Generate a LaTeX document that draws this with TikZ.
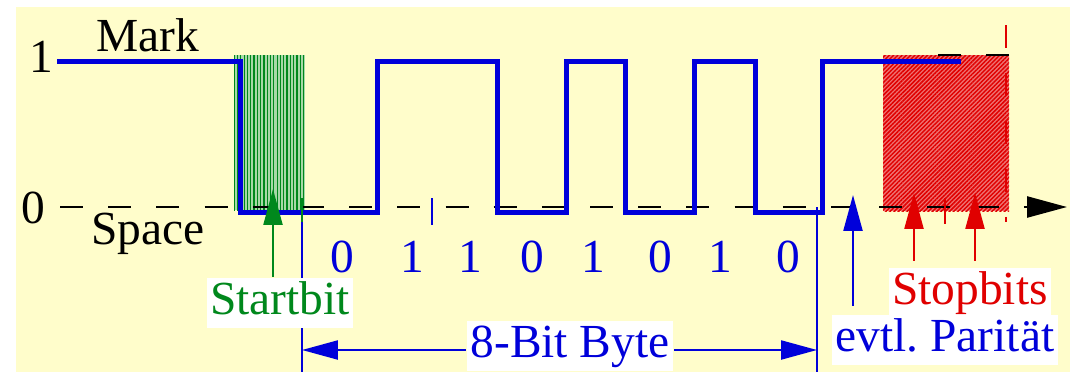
\documentclass[tikz,border=0pt]{standalone}
\usepackage{fontspec}
\setmainfont{Liberation Serif}
\usepackage{xcolor}
\usetikzlibrary{arrows.meta,patterns.meta}
\definecolor{PaperNC}{HTML}{FFFDCB}
\definecolor{BlueNC}{HTML}{0000DA}
\definecolor{GreenNC}{HTML}{00881C}
\definecolor{LightGreenNC}{HTML}{A8D8A8}
\definecolor{RedNC}{HTML}{E00000}
\newcommand\txtmark{Mark}
\newcommand\txtspace{Space}
\newcommand\txtstart{Startbit}
\newcommand\txtbyte{8-Bit Byte}
\newcommand\txtparity{evtl.\ Parität}
\newcommand\txtstop{Stopbits}
\tikzstyle{lbl} = [inner sep=0pt, font=\fontsize{27}{30}\selectfont]
\tikzstyle{boxlbl} = [lbl, fill=white, inner xsep=2pt, inner ysep=1pt, text height=20pt, text depth=6.5pt]
\tikzstyle{signal} = [draw=BlueNC, line width=0.1cm]
\tikzstyle{axis} = [draw=black, line width=0.05cm, dash pattern=on 0.46cm off 0.504cm]
\tikzstyle{bl} = [draw=BlueNC]
\tikzstyle{gl} = [draw=GreenNC]
\tikzstyle{rl} = [draw=RedNC]
\tikzset{>={Triangle[length=0.72cm,width=0.38cm]}, every picture/.style={line width=0.045cm}}

\begin{document}
\begin{tikzpicture}[x=0.02cm, y=-0.02cm]
\useasboundingbox (0,0) rectangle (1075,372);
\fill[PaperNC] (16,7) rectangle (1070,372);
\fill[LightGreenNC] (234,55) rectangle (305,210);
\fill[pattern={Lines[angle=90, distance=0.066cm, line width=0.024cm]}, pattern color=GreenNC] (234,55) rectangle (305,210);
\fill[RedNC!55!white] (883,55) rectangle (1009,211);
\fill[pattern={Lines[angle=45, distance=0.06cm, line width=0.03cm]}, pattern color=RedNC] (883,55) rectangle (1009,211);
\coordinate (t0) at (60,207);
\coordinate (tend) at (1067,207);
\draw[axis, -{Triangle[length=0.8cm,width=0.42cm]}] (t0) -- (tend);
\draw[axis] (938,55) -- (1010,55);
\draw[rl, line width=0.05cm, dash pattern=on 0.46cm off 0.5cm] (1006,25) -- (1006,222);
\draw[signal] (57,61) -| (240,212) -| (377,61) -| (497,212) -| (566,61) -| (625,212) -| (694,61) -| (755,212) -| (822,61) -- (961,61);
\draw[bl] (432,198) -- (432,225);
\draw[rl] (945,198) -- (945,224);
\draw[gl] (302,198) -- (302,222);
\draw[bl] (302,222) -- (302,372);
\draw[bl] (817,207) -- (817,372);
\node[lbl] (one) at (41,57) {1};
\node[lbl] (zero) at (33,208) {0};
\node[lbl] (mark) at (148,35) {\txtmark};
\node[lbl] (space) at (148,234) {\txtspace};
\foreach \x/\d [count=\i] in {342/0, 412/1, 470/1, 532/0, 593/1, 660/0, 720/1, 788/0}
  \node[lbl, text=BlueNC] (bit\i) at (\x,257) {\d};
\coordinate (starttip) at (273,189);
\coordinate (byteleft) at (302,350);
\coordinate (byteright) at (817,350);
\coordinate (paritytip) at (853,195);
\coordinate (stoptipa) at (914,193);
\coordinate (stoptipb) at (975,193);
\node[boxlbl, text=GreenNC] (start) at (280,303) {\txtstart};
\node[boxlbl, text=BlueNC] (byte) at (570,346) {\txtbyte};
\node[boxlbl, text=RedNC] (stop) at (970,293) {\txtstop};
\node[boxlbl, text=BlueNC] (parity) at (945,340) {\txtparity};
\draw[gl, ->] (start.north -| starttip) -- (starttip);
\draw[bl, ->] (byte.west |- byteleft) -- (byteleft);
\draw[bl, ->] (byte.east |- byteright) -- (byteright);
\draw[bl, ->, shorten <=0.16cm] (parity.north -| paritytip) -- (paritytip);
\draw[rl, ->, shorten <=0.12cm] (stop.north -| stoptipa) -- (stoptipa);
\draw[rl, ->, shorten <=0.12cm] (stop.north -| stoptipb) -- (stoptipb);
\end{tikzpicture}
\end{document}
